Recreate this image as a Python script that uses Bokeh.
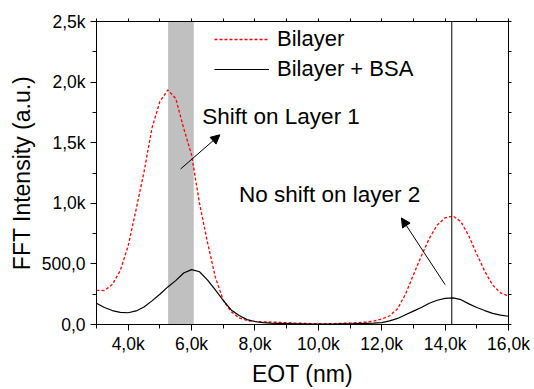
from bokeh.plotting import figure
from bokeh.models import (Range1d, FixedTicker, LinearAxis, BoxAnnotation, Span,
                          Arrow, NormalHead, Label, Legend, LegendItem)
from bokeh.embed import file_html
from bokeh.resources import INLINE

# ---- data ----
eot = [3000, 3250, 3500, 3750, 4000, 4250, 4500, 4750, 5000, 5250, 5500, 5750,
       6000, 6250, 6500, 6750, 7000, 7250, 7500, 7750, 8000, 8250, 8500, 8750,
       9000, 9250, 9500, 9750, 10000, 10250, 10500, 10750, 11000, 11250, 11500,
       11750, 12000, 12250, 12500, 12750, 13000, 13250, 13500, 13750, 14000,
       14250, 14500, 14750, 15000, 15250, 15500, 15750, 16000]
bilayer = [282, 280, 330, 445, 650, 950, 1260, 1620, 1840, 1935, 1865, 1620,
           1400, 1000, 680, 390, 200, 105, 55, 32, 25, 22, 20, 18,
           15, 12, 10, 8, 6, 6, 8, 10, 12, 15, 20,
           28, 45, 72, 130, 250, 410, 565, 710, 820, 880,
           895, 848, 730, 580, 440, 325, 261, 235]
bilayer_bsa = [175, 140, 115, 100, 97, 112, 145, 195, 250, 310, 362, 425,
               453, 435, 368, 285, 198, 120, 75, 40, 25, 16, 12, 10,
               8, 6, 5, 4, 4, 4, 4, 5, 6, 8, 10,
               12, 16, 30, 50, 80, 110, 140, 175, 200, 215,
               220, 205, 170, 140, 115, 92, 77, 68]
series_names = ["Bilayer", "Bilayer + BSA"]

x_ticks = [4000, 6000, 8000, 10000, 12000, 14000, 16000]
x_tick_labels = ["4,0k", "6,0k", "8,0k", "10,0k", "12,0k", "14,0k", "16,0k"]
x_minor = [3000, 5000, 7000, 9000, 11000, 13000, 15000]
y_ticks = [0, 500, 1000, 1500, 2000, 2500]
y_tick_labels = ["0,0", "500,0", "1,0k", "1,5k", "2,0k", "2,5k"]
y_minor = [250, 750, 1250, 1750, 2250]

shift_band = (5260, 6070)
layer2_line = 14210
ann1_text = "Shift on Layer 1"
ann2_text = "No shift on layer 2"

FONT = "Liberation Sans"

p = figure(width=534, height=389, output_backend="svg", toolbar_location=None,
           x_range=Range1d(3000, 16000), y_range=Range1d(0, 2500),
           min_border_left=96, min_border_right=26, min_border_top=21,
           min_border_bottom=64, x_axis_label="EOT (nm)",
           y_axis_label="FFT Intensity (a.u.)")
p.xgrid.visible = False
p.ygrid.visible = False
p.outline_line_color = "black"
p.outline_line_alpha = 1
p.background_fill_color = "white"
p.border_fill_color = "white"

# axes
for ax, ticks, minor, labels in ((p.xaxis[0], x_ticks, x_minor, x_tick_labels),
                                 (p.yaxis[0], y_ticks, y_minor, y_tick_labels)):
    ax.ticker = FixedTicker(ticks=ticks, minor_ticks=minor)
    ax.major_label_overrides = {t: l for t, l in zip(ticks, labels)}
    ax.major_label_text_font = FONT
    ax.major_label_text_font_size = "17.5px"
    ax.major_label_text_color = "black"
    ax.axis_label_text_font = FONT
    ax.axis_label_text_font_size = "23px"
    ax.axis_label_text_font_style = "normal"
    ax.axis_label_text_color = "black"
    ax.axis_line_color = "black"
    ax.major_tick_line_color = "black"
    ax.minor_tick_line_color = "black"
    ax.major_tick_out = 6
    ax.major_tick_in = 0
    ax.minor_tick_out = 4
    ax.minor_tick_in = 0
p.xaxis.major_label_standoff = 3
p.xaxis.axis_label_standoff = 4
p.yaxis.major_label_standoff = 5
p.yaxis.axis_label_standoff = 4

# mirrored top/right axes: tick marks only, no labels
for side, ticks, minor in (("above", x_ticks, x_minor), ("right", y_ticks, y_minor)):
    ax = LinearAxis(ticker=FixedTicker(ticks=[], minor_ticks=sorted(ticks + minor)),
                    axis_line_color="black", minor_tick_line_color="black",
                    minor_tick_out=3, minor_tick_in=0,
                    major_tick_out=0, major_tick_in=0, major_label_standoff=0)
    p.add_layout(ax, side)

# shaded band and vertical line
p.add_layout(BoxAnnotation(left=shift_band[0], right=shift_band[1],
                           fill_color="#c0c0c0", fill_alpha=1, line_alpha=0,
                           level="underlay"))
p.add_layout(Span(location=layer2_line, dimension="height",
                  line_color="black", line_width=1))

# curves
r1 = p.line(eot, bilayer, line_color="red", line_width=1.3, line_dash="3 2")
r2 = p.line(eot, bilayer_bsa, line_color="black", line_width=1.2)

legend = Legend(items=[LegendItem(label=series_names[0], renderers=[r1]),
                       LegendItem(label=series_names[1], renderers=[r2])],
                location=(118, 240), orientation="vertical",
                border_line_alpha=0, background_fill_alpha=0,
                glyph_width=55, glyph_height=30, label_height=30,
                label_standoff=8, spacing=0, padding=0, margin=0,
                label_text_font=FONT, label_text_font_size="22px",
                label_text_color="black")
p.add_layout(legend, "center")

# annotations
p.add_layout(Label(x=6338, y=1713, text=ann1_text, text_font=FONT,
                   text_font_size="22.5px", text_color="black",
                   text_baseline="alphabetic"))
p.add_layout(Label(x=7493, y=1073, text=ann2_text, text_font=FONT,
                   text_font_size="22.5px", text_color="black",
                   text_baseline="alphabetic"))
p.add_layout(Arrow(end=NormalHead(size=9, fill_color="black", line_color="black"),
                   x_start=5652, y_start=1283, x_end=6893, y_end=1565,
                   line_color="black", line_width=1))
p.add_layout(Arrow(end=NormalHead(size=9, fill_color="black", line_color="black"),
                   x_start=14000, y_start=329, x_end=12620, y_end=879,
                   line_color="black", line_width=1))

open("out.html", "w").write(file_html(p, INLINE))
